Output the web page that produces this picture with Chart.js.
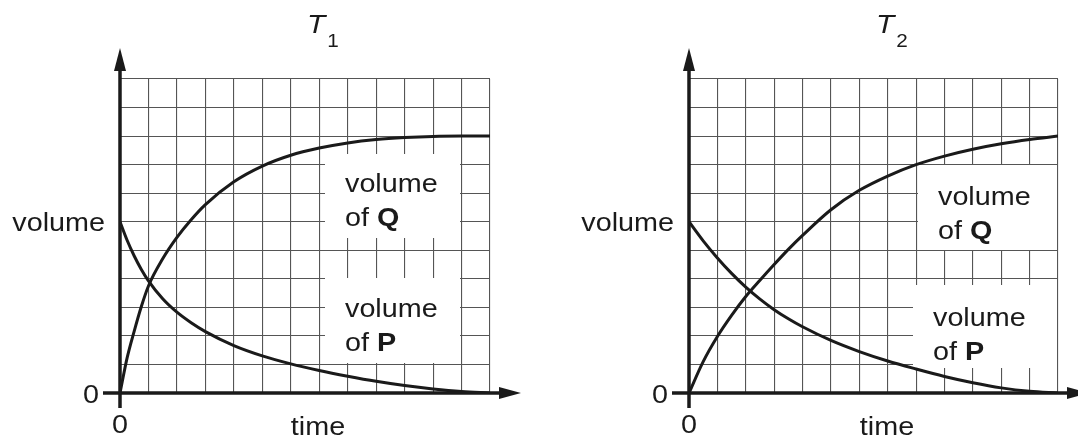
<!DOCTYPE html>
<html>
<head>
<meta charset="utf-8">
<script src="https://cdn.jsdelivr.net/npm/chart.js@4.4.1/dist/chart.umd.min.js"></script>
<style>
  html, body { margin: 0; padding: 0; background: #fff; }
  #wrap { position: relative; width: 1078px; height: 438px; overflow: hidden; }
  canvas { position: absolute; top: 0; }
</style>
</head>
<body>
<div id="wrap">
  <canvas id="chart-t1" width="539" height="438" style="left:0px"></canvas>
  <canvas id="chart-t2" width="539" height="438" style="left:539px"></canvas>
</div>
<script>
// grid: 13 columns of time, 11 rows of volume
const timeMax = 13;
const volumeMax = 11;
const zeroLabel = '0';

// T1
const timeT1 = [0, 0.25, 0.5, 0.75, 1, 1.5, 2, 2.5, 3, 4, 5, 6, 7, 8, 9, 10, 11, 12, 13];
const volumeQT1 = [0, 1.23, 2.17, 3.03, 3.75, 4.7, 5.45, 6.07, 6.6, 7.4, 7.95, 8.33, 8.58, 8.76, 8.88, 8.95, 8.99, 9, 9];
const volumePT1 = [6, 5.35, 4.8, 4.33, 3.93, 3.3, 2.83, 2.46, 2.15, 1.66, 1.3, 1.02, 0.79, 0.59, 0.41, 0.26, 0.14, 0.05, 0];

// T2
const timeT2 = [0, 0.5, 1, 1.5, 2, 2.5, 3, 3.5, 4, 5, 6, 7, 8, 9, 10, 11, 12, 13];
const volumeQT2 = [0, 1.1, 1.98, 2.72, 3.38, 3.95, 4.5, 5.03, 5.52, 6.42, 7.1, 7.6, 8.0, 8.3, 8.54, 8.73, 8.88, 9.0];
const volumePT2 = [6, 5.33, 4.73, 4.19, 3.71, 3.29, 2.92, 2.6, 2.32, 1.84, 1.45, 1.12, 0.84, 0.58, 0.36, 0.18, 0.06, 0];

const FONT = '"Liberation Sans", Arial, Helvetica, sans-serif';
const INK = '#1a1a1a';
const STRETCH = 1.15; // the printed lettering is a bit wider than Arial

function drawText(ctx, text, x, y, opts = {}) {
    const size = opts.size || 25;
    ctx.save();
    ctx.font = `${opts.italic ? 'italic ' : ''}${opts.bold ? 'bold ' : ''}${size}px ${FONT}`;
    ctx.fillStyle = INK;
    ctx.textBaseline = 'alphabetic';
    const w = ctx.measureText(text).width * STRETCH;
    let left = x;
    if (opts.align === 'right') left = x - w;
    if (opts.align === 'center') left = x - w / 2;
    ctx.translate(left, y);
    ctx.scale(STRETCH, 1);
    ctx.textAlign = 'left';
    ctx.fillText(text, 0, 0);
    ctx.restore();
    return left + w;
}

function makeSketch(layout) {
    return {
        id: 'sketch',
        beforeDatasetsDraw(chart) {
            // white label boxes that blank out the grid behind the text
            const { ctx, chartArea: a } = chart;
            ctx.save();
            ctx.fillStyle = '#fff';
            layout.boxes.forEach(b => ctx.fillRect(a.left + b.x, a.top + b.y, b.w, b.h));
            ctx.restore();
        },
        afterDatasetsDraw(chart) {
            const { ctx, chartArea: a } = chart;
            ctx.save();
            ctx.strokeStyle = INK;
            ctx.fillStyle = INK;
            ctx.lineWidth = 3.5;
            // x axis
            ctx.beginPath();
            ctx.moveTo(a.left - 17, a.bottom);
            ctx.lineTo(a.right + 12, a.bottom);
            ctx.stroke();
            ctx.beginPath();
            ctx.moveTo(a.right + 31, a.bottom);
            ctx.lineTo(a.right + 9, a.bottom - 6);
            ctx.lineTo(a.right + 9, a.bottom + 6);
            ctx.closePath();
            ctx.fill();
            // y axis
            ctx.beginPath();
            ctx.moveTo(a.left, a.bottom + 15);
            ctx.lineTo(a.left, a.top - 10);
            ctx.stroke();
            ctx.beginPath();
            ctx.moveTo(a.left, a.top - 31);
            ctx.lineTo(a.left - 6, a.top - 8);
            ctx.lineTo(a.left + 6, a.top - 8);
            ctx.closePath();
            ctx.fill();
            ctx.restore();
        },
        afterDraw(chart) {
            const { ctx, chartArea: a } = chart;
            // title T with subscript
            const tEnd = drawText(ctx, 'T', a.left + 187, 33, { italic: true, size: 26 });
            drawText(ctx, layout.sub, tEnd + 2, 47, { size: 18 });
            // axis labels
            drawText(ctx, 'volume', a.left - 15, 231, { align: 'right' });
            drawText(ctx, zeroLabel, a.left - 21, 403, { align: 'right' });
            drawText(ctx, zeroLabel, a.left, 433, { align: 'center' });
            drawText(ctx, 'time', a.left + 198, 435, { align: 'center' });
            // curve labels
            layout.labels.forEach(l => {
                drawText(ctx, 'volume', a.left + l.x, a.top + l.y);
                const e = drawText(ctx, 'of ', a.left + l.x, a.top + l.y + 34);
                drawText(ctx, l.name, e, a.top + l.y + 34, { bold: true });
            });
        }
    };
}

function makeChart(id, times, volQ, volP, pad, layout) {
    const ctx = document.getElementById(id).getContext('2d');
    const line = (vals) => ({
        data: times.map((t, i) => ({ x: t, y: vals[i] })),
        borderColor: INK,
        borderWidth: 3,
        pointRadius: 0,
        cubicInterpolationMode: 'monotone',
        fill: false
    });
    const gridOpts = { color: '#555', lineWidth: 1.1, drawTicks: false };
    return new Chart(ctx, {
        type: 'line',
        data: {
            datasets: [
                Object.assign(line(volQ), { label: 'volume of Q' }),
                Object.assign(line(volP), { label: 'volume of P' })
            ]
        },
        options: {
            responsive: false,
            animation: false,
            devicePixelRatio: 1,
            layout: { padding: pad },
            plugins: { legend: { display: false }, tooltip: { enabled: false } },
            scales: {
                x: {
                    type: 'linear', min: 0, max: timeMax,
                    ticks: { display: false, stepSize: 1 },
                    grid: gridOpts,
                    border: { display: false }
                },
                y: {
                    type: 'linear', min: 0, max: volumeMax,
                    ticks: { display: false, stepSize: 1 },
                    grid: gridOpts,
                    border: { display: false }
                }
            }
        },
        plugins: [makeSketch(layout)]
    });
}

makeChart('chart-t1', timeT1, volumeQT1, volumePT1,
    { left: 120, right: 49, top: 79, bottom: 45 },
    {
        sub: '1',
        boxes: [
            { x: 205, y: 75, w: 135, h: 84 },
            { x: 205, y: 199, w: 135, h: 85 }
        ],
        labels: [
            { x: 225, y: 113, name: 'Q' },
            { x: 225, y: 238, name: 'P' }
        ]
    });

makeChart('chart-t2', timeT2, volumeQT2, volumePT2,
    { left: 150, right: 20, top: 79, bottom: 45 },
    {
        sub: '2',
        boxes: [
            { x: 229, y: 86, w: 139, h: 85 },
            { x: 224, y: 206, w: 144, h: 83 }
        ],
        labels: [
            { x: 249, y: 126, name: 'Q' },
            { x: 244, y: 247, name: 'P' }
        ]
    });
</script>
</body>
</html>
